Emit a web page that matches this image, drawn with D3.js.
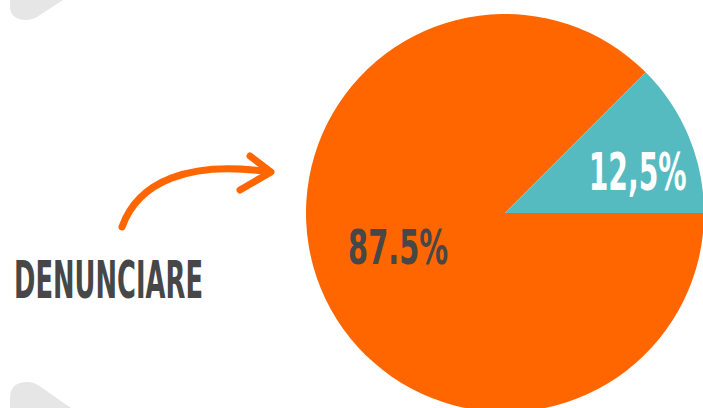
<!DOCTYPE html>
<html>
<head>
<meta charset="utf-8">
<script src="https://cdn.jsdelivr.net/npm/d3@7"></script>
<style>
  body { margin: 0; background: #fff; }
  svg { display: block; }
</style>
</head>
<body>
<div id="chart"></div>
<script>
const svgWidth = 703, svgHeight = 408;

// slice data
const labels = ["87.5%", "12,5%"];
const values = [87.5, 12.5];
const colors = ["#ff6600", "#56bbc1"];
const textColors = ["#474747", "#ffffff"];
const title = "DENUNCIARE";

const cx = 505, cy = 213, radius = 199;

const svg = d3.select('#chart').append('svg')
  .attr('width', svgWidth)
  .attr('height', svgHeight);

// decorative gray shapes in the corners
svg.append('path')
  .attr('d', 'M10,0 L10,6 Q10,20 27,20 Q32,20 37,17 L63,0 Z')
  .attr('fill', '#e6e6e6');
svg.append('path')
  .attr('d', 'M10,408 L10,398 Q10,382 28,382 Q33,382 38,385 L71,408 Z')
  .attr('fill', '#e6e6e6');

const pie = d3.pie()
  .sort(null)
  .startAngle(Math.PI / 2)
  .endAngle(Math.PI / 2 + 2 * Math.PI);

const arcs = pie(values);
const arc = d3.arc().innerRadius(0).outerRadius(radius);

const chart = svg.append('g')
  .attr('transform', `translate(${cx}, ${cy})`);

chart.selectAll('path.slice')
  .data(arcs)
  .enter()
  .append('path')
  .attr('class', 'slice')
  .attr('d', arc)
  .attr('fill', (d, i) => colors[i]);

// labels
const labelR = [112, 139];
const labelW = [100, 98];
const labelSize = [48, 51];
chart.selectAll('text.lbl')
  .data(arcs)
  .enter()
  .append('text')
  .attr('class', 'lbl')
  .each(function (d, i) {
    const a = (d.startAngle + d.endAngle) / 2 + 0.09;
    const x = labelR[i] * Math.sin(a);
    const y = -labelR[i] * Math.cos(a);
    d3.select(this)
      .attr('x', x - labelW[i] / 2)
      .attr('y', y + labelSize[i] * 0.729 / 2)
      .attr('textLength', labelW[i])
      .attr('lengthAdjust', 'spacingAndGlyphs');
  })
  .attr('font-family', '"DejaVu Sans Condensed", "DejaVu Sans", sans-serif')
  .attr('font-weight', 'bold')
  .attr('font-size', (d, i) => labelSize[i])
  .attr('fill', (d, i) => textColors[i])
  .text((d, i) => labels[i]);

// arrow
const arrow = svg.append('g')
  .attr('fill', 'none')
  .attr('stroke', '#ff6600')
  .attr('stroke-linecap', 'round')
  .attr('stroke-linejoin', 'round');
arrow.append('path')
  .attr('d', 'M122,227 C138,182 188,160 270,172')
  .attr('stroke-width', 7);
arrow.append('path')
  .attr('d', 'M250,156 L271,172 L240,190')
  .attr('stroke-width', 7);

svg.append('text')
  .attr('x', 14)
  .attr('y', 298)
  .attr('textLength', 189)
  .attr('lengthAdjust', 'spacingAndGlyphs')
  .attr('font-family', '"DejaVu Sans Condensed", "DejaVu Sans", sans-serif')
  .attr('font-weight', 'bold')
  .attr('font-size', 51)
  .attr('fill', '#474747')
  .text(title);
</script>
</body>
</html>
